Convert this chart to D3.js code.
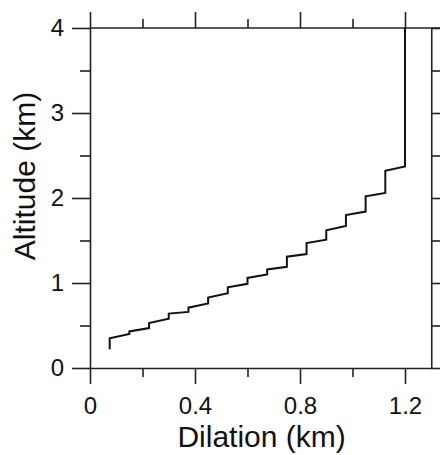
<!DOCTYPE html>
<meta charset="utf-8">
<style>
  body { margin: 0; background: #fff; }
  svg { display: block; font-family: "Liberation Sans", Arial, sans-serif; }
  .axis path, .axis line { stroke: #222; stroke-width: 1.6; }
  .axis text { fill: #111; font-size: 24px; }
  .title { fill: #111; font-size: 30px; }
</style>
<body></body>
<script src="https://d3js.org/d3.v7.min.js"></script>
<script>

// dilation at each step (km)
var dilation = [0.075, 0.15, 0.225, 0.30, 0.375, 0.45, 0.525, 0.60, 0.675, 0.75, 0.825, 0.90, 0.975, 1.05, 1.125, 1.20];
// altitude at the bottom and top of each step (km)
var altLow  = [0.22, 0.40, 0.47, 0.58, 0.66, 0.76, 0.88, 0.99, 1.10, 1.19, 1.34, 1.51, 1.67, 1.84, 2.06, 2.37];
var altHigh = [0.35, 0.43, 0.53, 0.64, 0.71, 0.83, 0.95, 1.06, 1.16, 1.31, 1.47, 1.62, 1.80, 2.02, 2.32, 4.00];

var xMajor = [0, 0.4, 0.8, 1.2];
var xMinor = [0.2, 0.6, 1.0];
var yMajor = [0, 1, 2, 3, 4];
var yMinor = [0.5, 1.5, 2.5, 3.5];

var width = 440, height = 455;
var plotLeft = 90, plotRight = 431.25, plotTop = 28, plotBottom = 368;

var svg = d3.select("body").append("svg")
    .attr("width", width)
    .attr("height", height);

var x = d3.scaleLinear().domain([0, 1.3]).range([plotLeft, plotRight]);
var y = d3.scaleLinear().domain([0, 4]).range([plotBottom, plotTop]);

var fmt = function(d) { return d === 0 ? "0" : d3.format("")(d); };

// bottom axis
svg.append("g").attr("class", "axis")
    .attr("transform", "translate(0," + plotBottom + ")")
    .call(d3.axisBottom(x).tickValues(xMajor).tickSize(16).tickSizeOuter(0).tickPadding(8).tickFormat(fmt))
    .call(function(g) { g.selectAll("text").attr("dy", "0.9em"); });
svg.append("g").attr("class", "axis")
    .attr("transform", "translate(0," + plotBottom + ")")
    .call(d3.axisBottom(x).tickValues(xMinor).tickSize(9).tickSizeOuter(0).tickFormat(""))
    .select(".domain").remove();

// top axis (line runs on to the image edge)
svg.append("g").attr("class", "axis")
    .attr("transform", "translate(0," + plotTop + ")")
    .call(d3.axisTop(x).tickValues(xMajor).tickSize(16).tickFormat(""))
    .select(".domain").remove();
svg.append("g").attr("class", "axis")
    .attr("transform", "translate(0," + plotTop + ")")
    .call(d3.axisTop(x).tickValues(xMinor).tickSize(9).tickFormat(""))
    .select(".domain").remove();
svg.append("line")
    .attr("x1", plotLeft).attr("x2", width)
    .attr("y1", plotTop).attr("y2", plotTop)
    .attr("stroke", "#222").attr("stroke-width", 1.6);

// left axis
svg.append("g").attr("class", "axis")
    .attr("transform", "translate(" + plotLeft + ",0)")
    .call(d3.axisLeft(y).tickValues(yMajor).tickSize(18).tickSizeOuter(0).tickPadding(8).tickFormat(d3.format("d")));
svg.append("g").attr("class", "axis")
    .attr("transform", "translate(" + plotLeft + ",0)")
    .call(d3.axisLeft(y).tickValues(yMinor).tickSize(10).tickFormat(""))
    .select(".domain").remove();

// right axis
svg.append("g").attr("class", "axis")
    .attr("transform", "translate(" + plotRight + ",0)")
    .call(d3.axisRight(y).tickValues(yMajor.concat(yMinor)).tickSize(10).tickSizeOuter(0).tickFormat(""));

// step profile
var pts = [];
dilation.forEach(function(d, i) {
  pts.push([d, altLow[i]]);
  pts.push([d, altHigh[i]]);
});

var line = d3.line()
    .x(function(d) { return x(d[0]); })
    .y(function(d) { return y(d[1]); });

svg.append("path")
    .datum(pts)
    .attr("d", line)
    .attr("fill", "none")
    .attr("stroke", "#111")
    .attr("stroke-width", 2)
    .attr("stroke-linejoin", "miter");

// axis titles
svg.append("text").attr("class", "title")
    .attr("x", (plotLeft + plotRight) / 2 + 1)
    .attr("y", 447)
    .attr("text-anchor", "middle")
    .text("Dilation (km)");

svg.append("text").attr("class", "title")
    .attr("transform", "translate(35,176) rotate(-90)")
    .attr("text-anchor", "middle")
    .text("Altitude (km)");

</script>
